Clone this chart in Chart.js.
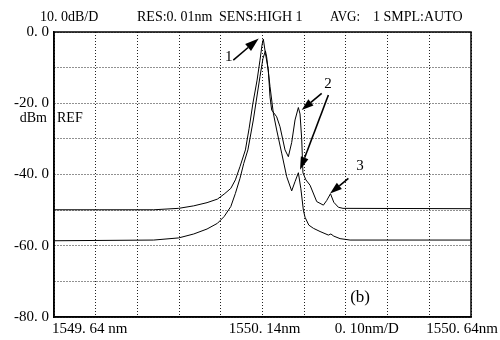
<!DOCTYPE html>
<html>
<head>
<meta charset="utf-8">
<script src="https://cdn.jsdelivr.net/npm/chart.js@4/dist/chart.umd.min.js"></script>
<style>
html,body{margin:0;padding:0;background:#fff;}
#wrap{width:500px;height:340px;}
</style>
</head>
<body>
<div id="wrap"><canvas id="c" width="500" height="340"></canvas></div>
<script>
// Curve A (upper baseline): wavelength (nm) and power (dBm)
const wlA = [1549.640,1549.750,1549.879,1549.939,1549.975,1550.007,1550.032,1550.048,1550.064,1550.075,1550.086,1550.099,1550.108,1550.117,1550.127,1550.134,1550.139,1550.142,1550.147,1550.154,1550.158,1550.162,1550.174,1550.182,1550.194,1550.202,1550.210,1550.218,1550.226,1550.230,1550.234,1550.237,1550.244,1550.254,1550.270,1550.286,1550.294,1550.303,1550.311,1550.322,1550.333,1550.640];
const dbA = [-49.9,-49.9,-49.9,-49.5,-48.8,-47.9,-46.9,-45.5,-43.9,-41.5,-37.8,-33.1,-27.0,-20.0,-13.5,-7.9,-3.5,-2.0,-6.0,-10.7,-18.2,-21.9,-23.8,-26.6,-33.1,-35.0,-31.0,-24.7,-21.2,-23.0,-30.0,-39.5,-41.5,-43.0,-47.6,-48.6,-47.3,-45.4,-47.8,-49.2,-49.5,-49.6];
// Curve B (lower baseline)
const wlB = [1549.640,1549.879,1549.939,1549.975,1550.007,1550.032,1550.048,1550.064,1550.075,1550.086,1550.095,1550.105,1550.118,1550.134,1550.141,1550.147,1550.150,1550.158,1550.166,1550.174,1550.186,1550.198,1550.210,1550.218,1550.226,1550.232,1550.238,1550.242,1550.251,1550.262,1550.278,1550.298,1550.304,1550.311,1550.326,1550.350,1550.640];
const dbB = [-58.6,-58.4,-57.8,-56.7,-55.3,-53.7,-51.8,-49.0,-45.3,-41.1,-36.9,-33.1,-24.7,-12.5,-7.5,-5.3,-7.0,-15.3,-22.8,-27.5,-34.0,-40.6,-44.6,-42.0,-39.5,-44.0,-50.0,-52.0,-54.2,-55.1,-56.0,-57.0,-56.7,-57.3,-58.0,-58.4,-58.4];

// Axis settings
const xMin = 1549.64, xMax = 1550.64, xStep = 0.1;
const yMin = -80, yMax = 0, yStep = 10;
const yLabelEvery = 20;
const xTickTexts = ['1549. 64 nm','1550. 14nm','0. 10nm/D','1550. 64nm'];
const xTickAnchors = [1549.64, 1550.14, 1550.39, 1550.64];
const headerTexts = ['10. 0dB/D','RES:0. 01nm','SENS:HIGH 1','AVG:','1 SMPL:AUTO'];

// Annotations (in data units)
const arrows = [
  {from:[1550.070,-7.9], to:[1550.131,-1.8], head:14, w:9},
  {from:[1550.282,-17.2], to:[1550.234,-21.9], head:12, w:8},
  {from:[1550.298,-17.7], to:[1550.230,-38.7], head:13, w:8},
  {from:[1550.346,-41.1], to:[1550.302,-45.3], head:12, w:8}
];
const notes = [
  {t:'1', at:[1550.059,-7.0]},
  {t:'2', at:[1550.297,-14.6]},
  {t:'3', at:[1550.374,-37.6]}
];

const SERIF = '"Liberation Serif", "DejaVu Serif", serif';

const toPts = (xs, ys) => xs.map((x,i)=>({x:x, y:ys[i]}));

const overlay = {
  id:'overlay',
  afterDraw(chart){
    const ctx = chart.ctx, a = chart.chartArea, sx = chart.scales.x, sy = chart.scales.y;
    ctx.save();
    // frame
    ctx.strokeStyle = '#000'; ctx.lineWidth = 1.5; ctx.setLineDash([]);
    ctx.strokeRect(a.left, a.top, a.right-a.left, a.bottom-a.top);
    // header
    ctx.fillStyle = '#000';
    ctx.font = '14px ' + SERIF;
    ctx.textBaseline = 'middle';
    ctx.textAlign = 'left';
    const hx = [40,137,219,330,373], hw = [64,78,97,30,108];
    headerTexts.forEach((t,i)=>ctx.fillText(t, hx[i], 17, hw[i]));
    // x labels
    ctx.font = '15px ' + SERIF;
    ctx.textBaseline = 'middle';
    const ly = a.bottom + 12;
    ctx.textAlign = 'left';
    ctx.fillText(xTickTexts[0], sx.getPixelForValue(xTickAnchors[0]) - 2, ly);
    ctx.textAlign = 'center';
    ctx.fillText(xTickTexts[1], sx.getPixelForValue(xTickAnchors[1]) + 2, ly);
    ctx.fillText(xTickTexts[2], sx.getPixelForValue(xTickAnchors[2]), ly);
    ctx.textAlign = 'right';
    ctx.fillText(xTickTexts[3], sx.getPixelForValue(xTickAnchors[3]) + 27, ly);
    // dBm and REF
    ctx.font = '14px ' + SERIF;
    ctx.textAlign = 'right';
    ctx.fillText('dBm', a.left - 7, sy.getPixelForValue(-24.2));
    ctx.textAlign = 'left';
    ctx.fillText('REF', a.left + 3, sy.getPixelForValue(-24.2));
    // arrows
    ctx.strokeStyle = '#000'; ctx.fillStyle = '#000'; ctx.lineWidth = 1.6;
    arrows.forEach(ar=>{
      const x1 = sx.getPixelForValue(ar.from[0]), y1 = sy.getPixelForValue(ar.from[1]);
      const x2 = sx.getPixelForValue(ar.to[0]), y2 = sy.getPixelForValue(ar.to[1]);
      const ang = Math.atan2(y2-y1, x2-x1);
      const bx = x2 - ar.head*Math.cos(ang), by = y2 - ar.head*Math.sin(ang);
      ctx.beginPath(); ctx.moveTo(x1,y1); ctx.lineTo(bx,by); ctx.stroke();
      const px = -Math.sin(ang)*ar.w/2, py = Math.cos(ang)*ar.w/2;
      ctx.beginPath(); ctx.moveTo(x2,y2); ctx.lineTo(bx+px,by+py); ctx.lineTo(bx-px,by-py); ctx.closePath(); ctx.fill();
    });
    // numbers
    ctx.font = '15px ' + SERIF;
    ctx.textAlign = 'center';
    notes.forEach(n=>ctx.fillText(n.t, sx.getPixelForValue(n.at[0]), sy.getPixelForValue(n.at[1])));
    ctx.font = '17px ' + SERIF;
    ctx.fillText('(b)', sx.getPixelForValue(1550.374), sy.getPixelForValue(-74.6));
    ctx.restore();
  }
};

new Chart(document.getElementById('c'), {
  type:'line',
  data:{
    datasets:[
      {data:toPts(wlA,dbA), borderColor:'#000', borderWidth:1, pointRadius:0, tension:0, fill:false},
      {data:toPts(wlB,dbB), borderColor:'#000', borderWidth:1, pointRadius:0, tension:0, fill:false}
    ]
  },
  options:{
    responsive:false, animation:false, devicePixelRatio:1,
    layout:{padding:{left:0,right:29,top:32,bottom:0}},
    plugins:{legend:{display:false}, tooltip:{enabled:false}, title:{display:false}},
    scales:{
      x:{
        type:'linear', min:xMin, max:xMax,
        afterBuildTicks:(s)=>{ const t=[]; for(let k=0;k<=Math.round((xMax-xMin)/xStep);k++) t.push({value:+(xMin+k*xStep).toFixed(2)}); s.ticks=t; },
        afterFit:(s)=>{ s.height = 23; },
        ticks:{display:false},
        grid:{color:'#222', lineWidth:1, drawTicks:false},
        border:{display:true, color:'#000', width:1.5, dash:[1,2]}
      },
      y:{
        type:'linear', min:yMin, max:yMax,
        ticks:{stepSize:yStep, padding:5, color:'#000', font:{family:SERIF, size:15},
          callback:(v)=> (v % yLabelEvery === 0) ? (v===0 ? '0. 0' : v.toFixed(1).replace('.', '. ')) : ''},
        afterFit:(s)=>{ s.width = 54; },
        grid:{color:'#222', lineWidth:1, drawTicks:false},
        border:{display:true, color:'#000', width:1.5, dash:[1,2]}
      }
    }
  },
  plugins:[overlay]
});
</script>
</body>
</html>
